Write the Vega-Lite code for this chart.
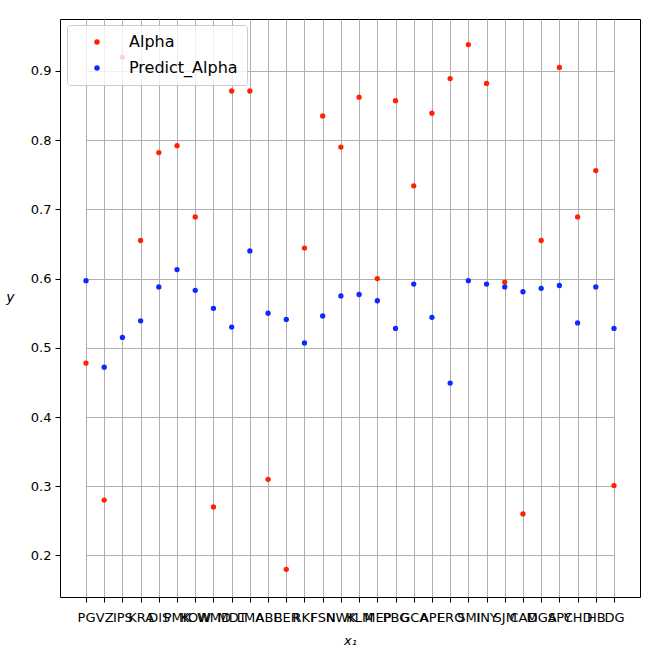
{
  "$schema": "https://vega.github.io/schema/vega-lite/v6.json",
  "width": 580,
  "height": 578,
  "autosize": "none",
  "padding": {"left": 60, "top": 19, "right": 24, "bottom": 56},
  "background": "white",
  "datasets": {
    "alpha": [
      {"label": "PG", "Alpha": 0.478, "Predict_Alpha": 0.597},
      {"label": "VZ", "Alpha": 0.280, "Predict_Alpha": 0.472},
      {"label": "IPS", "Alpha": 0.920, "Predict_Alpha": 0.515},
      {"label": "KRA", "Alpha": 0.655, "Predict_Alpha": 0.539},
      {"label": "DIS", "Alpha": 0.782, "Predict_Alpha": 0.588},
      {"label": "PMK", "Alpha": 0.792, "Predict_Alpha": 0.613},
      {"label": "KOW", "Alpha": 0.689, "Predict_Alpha": 0.583},
      {"label": "WMD", "Alpha": 0.270, "Predict_Alpha": 0.557},
      {"label": "MDT", "Alpha": 0.871, "Predict_Alpha": 0.530},
      {"label": "LMA", "Alpha": 0.871, "Predict_Alpha": 0.640},
      {"label": "ABE", "Alpha": 0.310, "Predict_Alpha": 0.550},
      {"label": "BER", "Alpha": 0.180, "Predict_Alpha": 0.541},
      {"label": "RKF", "Alpha": 0.644, "Predict_Alpha": 0.507},
      {"label": "FSN", "Alpha": 0.835, "Predict_Alpha": 0.546},
      {"label": "NWK", "Alpha": 0.790, "Predict_Alpha": 0.575},
      {"label": "KLM", "Alpha": 0.862, "Predict_Alpha": 0.577},
      {"label": "MEP", "Alpha": 0.600, "Predict_Alpha": 0.568},
      {"label": "PBG", "Alpha": 0.857, "Predict_Alpha": 0.528},
      {"label": "GCA", "Alpha": 0.734, "Predict_Alpha": 0.592},
      {"label": "APE", "Alpha": 0.839, "Predict_Alpha": 0.544},
      {"label": "ERO", "Alpha": 0.889, "Predict_Alpha": 0.449},
      {"label": "SMI", "Alpha": 0.938, "Predict_Alpha": 0.597},
      {"label": "INY", "Alpha": 0.882, "Predict_Alpha": 0.592},
      {"label": "SJM", "Alpha": 0.595, "Predict_Alpha": 0.588},
      {"label": "CAD", "Alpha": 0.260, "Predict_Alpha": 0.581},
      {"label": "MGA", "Alpha": 0.655, "Predict_Alpha": 0.586},
      {"label": "SPY", "Alpha": 0.905, "Predict_Alpha": 0.590},
      {"label": "CHD", "Alpha": 0.689, "Predict_Alpha": 0.536},
      {"label": "HB", "Alpha": 0.756, "Predict_Alpha": 0.588},
      {"label": "DG", "Alpha": 0.301, "Predict_Alpha": 0.528}
    ]
  },
  "data": {"name": "alpha"},
  "transform": [
    {"fold": ["Alpha", "Predict_Alpha"], "as": ["series", "value"]}
  ],
  "mark": {"type": "circle", "size": 28, "opacity": 1},
  "encoding": {
    "x": {
      "field": "label",
      "type": "nominal",
      "sort": null,
      "scale": {"type": "point", "padding": 0, "range": [26, 554]},
      "axis": {
        "title": "x₁",
        "titleFontStyle": "italic",
        "titleFontWeight": "normal",
        "titleFont": "DejaVu Sans",
        "titleFontSize": 13,
        "titleColor": "black",
        "titleBaseline": "alphabetic",
        "titleX": 290,
        "titleY": 47,
        "labelAngle": 0,
        "labelOverlap": false,
        "labelFont": "DejaVu Sans",
        "labelFontSize": 13,
        "labelColor": "black",
        "labelPadding": 9,
        "tickSize": 5,
        "tickColor": "black",
        "domain": false,
        "grid": true,
        "gridColor": "#b0b0b0",
        "gridWidth": 1
      }
    },
    "y": {
      "field": "value",
      "type": "quantitative",
      "scale": {"domain": [0.140, 0.975], "nice": false, "zero": false},
      "axis": {
        "title": "y",
        "titleAngle": 0,
        "titleFontStyle": "italic",
        "titleFontWeight": "normal",
        "titleFont": "DejaVu Sans",
        "titleFontSize": 14,
        "titleColor": "black",
        "titleAlign": "center",
        "titleBaseline": "alphabetic",
        "titleX": -50,
        "titleY": 282,
        "values": [0.2, 0.3, 0.4, 0.5, 0.6, 0.7, 0.8, 0.9],
        "format": ".1f",
        "labelFont": "DejaVu Sans",
        "labelFontSize": 13,
        "labelColor": "black",
        "labelPadding": 4,
        "tickSize": 5,
        "tickColor": "black",
        "domain": false,
        "grid": true,
        "gridColor": "#b0b0b0",
        "gridWidth": 1
      }
    },
    "color": {
      "field": "series",
      "type": "nominal",
      "scale": {"domain": ["Alpha", "Predict_Alpha"], "range": ["#ff2200", "#0a2aff"]},
      "legend": {
        "title": null,
        "orient": "none",
        "legendX": 7,
        "legendY": 6,
        "symbolType": "circle",
        "symbolSize": 30,
        "symbolOpacity": 1,
        "labelFont": "DejaVu Sans",
        "labelFontSize": 16,
        "labelColor": "black",
        "labelOffset": 24,
        "rowPadding": 10,
        "padding": 9,
        "symbolOffset": 13,
        "fillColor": "rgba(255,255,255,0.8)",
        "strokeColor": "#cccccc",
        "cornerRadius": 3
      }
    }
  },
  "config": {
    "view": {"stroke": "black", "strokeWidth": 1}
  }
}
